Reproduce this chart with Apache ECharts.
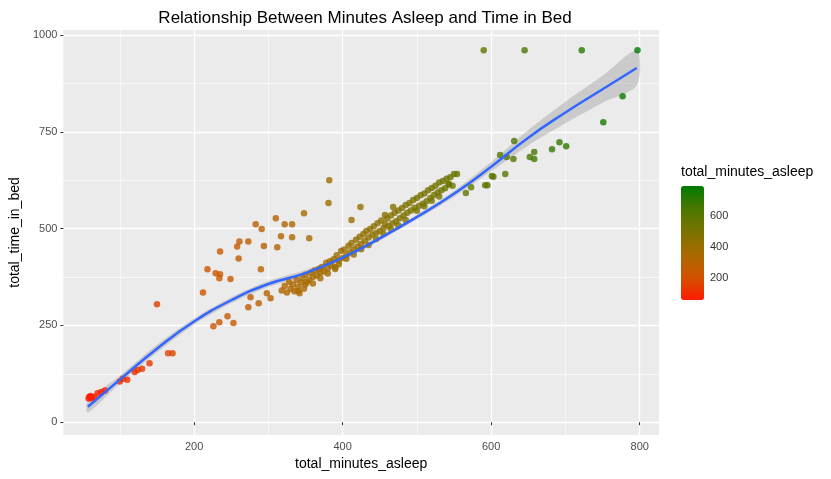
<!DOCTYPE html>
<html>
<head>
<meta charset="utf-8">
<script src="https://cdn.jsdelivr.net/npm/echarts@6/dist/echarts.min.js"></script>
<style>html,body{margin:0;padding:0;background:#fff}#main{width:831px;height:479px}</style>
</head>
<body>
<div id="main"></div>
<script>
// points: [total_minutes_asleep, total_time_in_bed]
var sleepPoints = [
  [58,61],[59,66],[60,64],[61,68],[62,62],[65,65],[70,75],[75,78],[80,82],[100,105],[104,112],[110,110],
  [120,130],[124,135],[130,138],[140,152],[150,305],[165,178],[171,178],
  [212,335],[218,395],[235,441],[260,423],[258,454],[261,467],[273,467],[283,511],[291,499],[294,455],
  [290,395],[229,385],[235,382],[234,372],[249,370],[226,248],[234,258],[245,274],[253,256],
  [273,297],[276,323],[287,307],[298,333],[303,320],[310,527],[322,511],[332,511],[317,480],[332,478],
  [312,452],[348,540],[355,475],[382,625],[381,566],[424,556],[412,522],[468,556],[457,535],
  [318,340],[322,352],[325,335],[328,362],[330,345],[333,356],[335,338],[338,367],[340,350],[342,333],
  [344,361],[346,372],[348,345],[350,381],[352,362],[355,368],[357,386],[360,375],[362,392],[365,379],
  [368,396],[370,372],[372,401],[375,389],[378,412],[380,397],[383,416],[385,404],[388,421],[390,401],
  [392,431],[395,417],[398,442],[400,424],[402,446],[405,431],[408,456],[410,439],[412,463],[415,447],
  [418,471],[420,454],[423,479],[425,461],[428,486],[430,469],[432,494],[435,477],[437,499],[440,484],
  [442,506],[445,489],[447,514],[450,494],[452,521],[455,501],[457,511],[460,526],[462,507],[465,534],
  [467,514],[470,541],[472,519],[475,547],[477,527],[480,553],[482,534],[485,561],[487,541],[490,566],
  [492,547],[495,574],[497,554],[500,579],[503,559],[505,586],[508,564],[510,591],[513,571],[515,599],
  [518,579],[520,605],[523,587],[525,611],[528,593],[530,619],[533,599],[535,623],[538,604],[540,629],
  [543,614],[545,633],[548,611],[550,641],[554,641],[566,592],[573,607],[543,615],[592,612],[595,612],
  [601,636],[603,634],[619,641],[612,690],[621,685],[630,680],[631,726],[652,685],[658,698],[658,680],
  [682,705],[692,723],[701,713],[751,775],[777,842],[590,961],[645,961],[722,961],[797,961],
  [395,408],[405,422],[415,433],[425,447],[435,458],[445,473],[455,486],[465,499],[475,508],[485,522],
  [360,358],[370,386],[380,384],[390,396],[340,338],[350,356],[500,546],[510,558],[520,572],[530,583]
];
// loess fit
var fitX = [57,100,150,200,250,300,350,400,450,500,550,600,650,700,750,796];
var fitY = [40,110,190,260,315,357,385,425,475,530,590,660,735,800,860,915];
var fitHalf = [15,10,10,8,8,8,8,6,6,6,8,12,20,28,35,45];
var xMajor = [200,400,600,800], xMinor = [100,300,500,700];
var yMajor = [0,250,500,750,1000], yMinor = [125,375,625,875];
var legendTicks = [200,400,600];

var chart = echarts.init(document.getElementById('main'));
var fitLine = fitX.map(function (x, i) { return [x, fitY[i]]; });

function gridLines(vals, axis, w) {
  return vals.map(function (v) {
    var o = {}; o[axis] = v; o.lineStyle = {color: '#fff', width: w, type: 'solid'}; return o;
  });
}

var option = {
  animation: false,
  title: {text: 'Relationship Between Minutes Asleep and Time in Bed', left: 360, top: 5, textAlign: 'center',
    textStyle: {fontSize: 17, fontWeight: 'normal', color: '#000', fontFamily: 'Liberation Sans'}},
  grid: {left: 62, right: 172, top: 30, bottom: 44, show: true, backgroundColor: '#ebebeb', borderWidth: 0},
  xAxis: {type: 'value', min: 24, max: 826, name: 'total_minutes_asleep', nameLocation: 'middle', nameGap: 22,
    nameTextStyle: {fontSize: 14, color: '#000'},
    splitLine: {show: false}, axisLine: {show: false},
    axisTick: {show: true, customValues: xMajor, length: 3, lineStyle: {color: '#333'}},
    axisLabel: {customValues: xMajor, color: '#4d4d4d', fontSize: 11, margin: 6}},
  yAxis: {type: 'value', min: -33, max: 1013, name: 'total_time_in_bed', nameLocation: 'middle', nameGap: 40,
    nameTextStyle: {fontSize: 14, color: '#000'},
    splitLine: {show: false}, axisLine: {show: false},
    axisTick: {show: true, customValues: yMajor, length: 3, lineStyle: {color: '#333'}},
    axisLabel: {customValues: yMajor, color: '#4d4d4d', fontSize: 11, margin: 6,
      formatter: function (v) { return String(v); }}},
  visualMap: {type: 'continuous', seriesIndex: 2, dimension: 0, min: 58, max: 797, left: 681, top: 186,
    itemWidth: 23, itemHeight: 114, calculable: false, text: null, showLabel: false, padding: 0,
    inRange: {color: ['#ff1a00', '#d25200', '#a86a00', '#7a7300', '#4a7800', '#007a00']}},
  graphic: [{type: 'text', left: 681, top: 165, style: {text: 'total_minutes_asleep', fontSize: 14, fill: '#000'}}]
    .concat(legendTicks.map(function (t) {
      return {type: 'text', left: 710, top: 300 - (t - 58) / (797 - 58) * 114 - 6,
        style: {text: String(t), fontSize: 11, fill: '#333'}};
    })),
  series: [
    {type: 'custom', z: 1, silent: true, data: [0],
      renderItem: function (params, api) {
        var pts = [];
        fitX.forEach(function (x, i) { pts.push(api.coord([x, fitY[i] + fitHalf[i]])); });
        for (var i = fitX.length - 1; i >= 0; i--) pts.push(api.coord([fitX[i], fitY[i] - fitHalf[i]]));
        return {type: 'polygon', shape: {points: pts, smooth: 0.3}, style: {fill: 'rgba(153,153,153,0.4)'}};
      },
      markLine: {silent: true, symbol: 'none', label: {show: false}, z: 0,
        data: gridLines(xMinor, 'xAxis', 0.6).concat(gridLines(yMinor, 'yAxis', 0.6))
          .concat(gridLines(xMajor, 'xAxis', 1.3)).concat(gridLines(yMajor, 'yAxis', 1.3))}},
    {type: 'line', data: fitLine, symbol: 'none', smooth: true, z: 5, lineStyle: {color: '#3366ff', width: 2.5}},
    {type: 'scatter', data: sleepPoints, symbolSize: 6.5, z: 4}
  ]
};
chart.setOption(option);
</script>
</body>
</html>
